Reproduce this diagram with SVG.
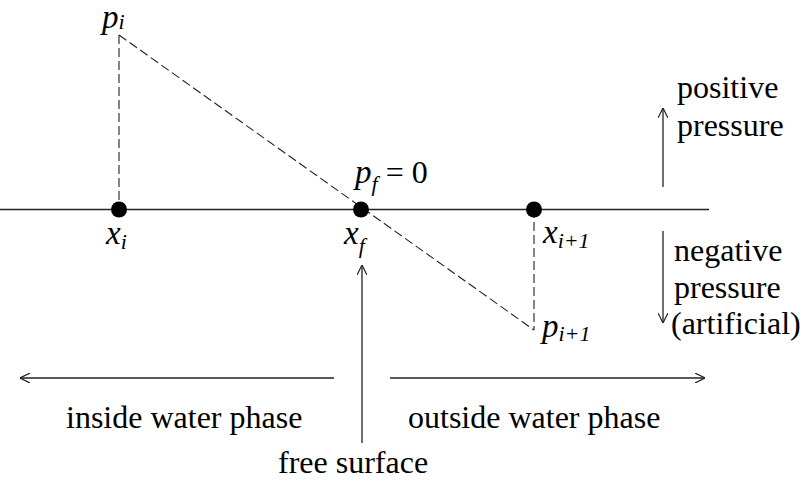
<svg xmlns="http://www.w3.org/2000/svg" width="811" height="480" viewBox="0 0 811 480" font-family="Liberation Serif, 'Times New Roman', serif">
<style>
.t{font-size:32px;fill:#000}
.m{font-style:italic;font-size:33px;fill:#000}
.s{font-style:italic;font-size:22px;fill:#000}
.ln{stroke:#222;stroke-width:1.3;fill:none}
.dash{stroke:#222;stroke-width:1.1;fill:none;stroke-dasharray:9 4}
.dot{fill:#000}
</style>
<defs>
<marker id="ah" viewBox="0 0 10 10" refX="10" refY="5" markerWidth="10" markerHeight="10" markerUnits="userSpaceOnUse" orient="auto">
<path d="M0,0 L10,5 L0,10" fill="none" stroke="#222" stroke-width="1.2"/>
</marker>
</defs>
<g id="connectors">
<line class="ln" x1="0" y1="209.5" x2="709" y2="209.5"/>
<line class="dash" x1="119" y1="35" x2="119" y2="209"/>
<line class="dash" x1="119" y1="35" x2="534" y2="330"/>
<line class="dash" x1="534" y1="209" x2="534" y2="330"/>
<line class="ln" x1="663" y1="187" x2="663" y2="108" marker-end="url(#ah)"/>
<line class="ln" x1="663" y1="231" x2="663" y2="323" marker-end="url(#ah)"/>
<line class="ln" x1="362" y1="443" x2="362" y2="265" marker-end="url(#ah)"/>
<line class="ln" x1="334" y1="378" x2="20" y2="378" marker-end="url(#ah)"/>
<line class="ln" x1="390" y1="378" x2="705" y2="378" marker-end="url(#ah)"/>
</g>
<g id="node-xi">
<circle class="dot" cx="119" cy="209.5" r="8"/>
<text class="m" x="106" y="244">x<tspan class="s" dy="5">i</tspan></text>
</g>
<g id="node-pi">
<text class="m" font-size="28" x="102" y="28">p<tspan class="s" font-size="20" dy="1">i</tspan></text>
</g>
<g id="node-xf">
<circle class="dot" cx="361" cy="209.5" r="8"/>
<text class="m" x="344" y="244">x<tspan class="s" dy="9">f</tspan></text>
<text class="m" x="355" y="183">p<tspan class="s" dy="8">f</tspan><tspan class="t" font-style="normal" font-size="34" dy="-8"> = 0</tspan></text>
</g>
<g id="node-xi1">
<circle class="dot" cx="534" cy="209.5" r="8"/>
<text class="m" x="543" y="243">x<tspan class="s" dy="5">i+1</tspan></text>
</g>
<g id="node-pi1">
<text class="m" x="542" y="337">p<tspan class="s" dy="4">i+1</tspan></text>
</g>
<g id="labels">
<text class="t" x="677" y="98">positive</text>
<text class="t" x="677" y="136">pressure</text>
<text class="t" x="674" y="261">negative</text>
<text class="t" x="674" y="298">pressure</text>
<text class="t" x="671" y="334">(artificial)</text>
<text class="t" x="66" y="428">inside water phase</text>
<text class="t" x="408" y="428">outside water phase</text>
<text class="t" x="278" y="473">free surface</text>
</g>
</svg>
